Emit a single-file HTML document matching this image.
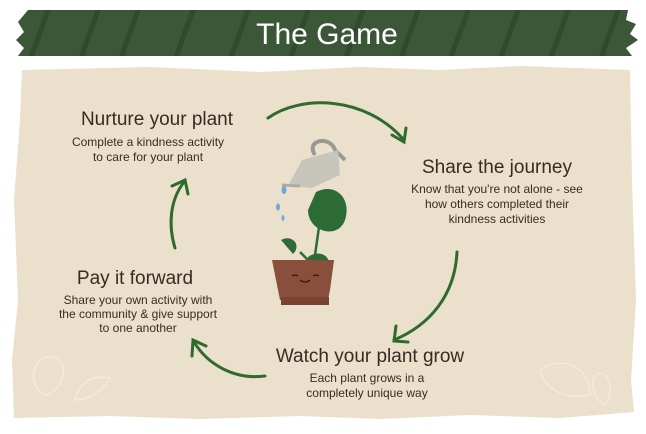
<!DOCTYPE html><html><head><style>body{margin:0;background:#fff}svg{display:block}text{font-family:"Liberation Sans",sans-serif;fill:#3a2a24}</style></head><body>
<svg width="646" height="434" viewBox="0 0 646 434">
<defs><clipPath id="b"><path d="M28,10 L628,10 L626,20 L636,24 L630,34 L638,40 L626,48 L632,56 L18,56 L24,48 L16,40 L24,32 L18,22 Z"/></clipPath></defs>
<path d="M28,10 L628,10 L626,20 L636,24 L630,34 L638,40 L626,48 L632,56 L18,56 L24,48 L16,40 L24,32 L18,22 Z" fill="#3c5638"/>
<g clip-path="url(#b)" stroke="#2f4a2c" stroke-width="5">
<line x1="30" y1="60" x2="50" y2="5"/><line x1="80" y1="60" x2="100" y2="5"/><line x1="120" y1="60" x2="140" y2="5"/><line x1="175" y1="60" x2="195" y2="5"/><line x1="230" y1="60" x2="250" y2="5"/><line x1="290" y1="60" x2="310" y2="5"/><line x1="345" y1="60" x2="365" y2="5"/><line x1="400" y1="60" x2="420" y2="5"/><line x1="450" y1="60" x2="470" y2="5"/><line x1="500" y1="60" x2="520" y2="5"/><line x1="550" y1="60" x2="570" y2="5"/><line x1="600" y1="60" x2="620" y2="5"/></g>
<text x="327" y="44" text-anchor="middle" font-size="30" style="fill:#fff">The Game</text>
<path d="M22,70 L150,67 L260,72 L360,67 L440,70 L520,66 L630,70 L632,180 L636,300 L631,380 L634,412 L560,418 L470,415 L380,419 L300,416 L200,419 L110,416 L14,418 L12,360 L18,300 L14,200 L20,120 Z" fill="#ebe0cb"/>
<g fill="none" stroke="#f3ead8" stroke-width="1.5"><path d="M45,395 C20,380 40,345 60,360 C70,375 55,395 45,395Z"/><path d="M75,400 C80,380 95,375 110,378 C100,395 85,400 75,400Z"/><path d="M540,370 C560,355 590,365 590,395 C565,400 545,390 540,370Z"/><path d="M595,375 C610,368 615,390 605,405 C595,400 590,385 595,375Z"/></g>
<g fill="none" stroke="#2f6a2e" stroke-width="3" stroke-linecap="round">
<path d="M268,118 C300,95 365,95 404,140"/><path d="M392,135 L404,142 L406,128"/>
<path d="M457,252 C455,295 430,325 394,340"/><path d="M396,326 L394,341 L408,342"/>
<path d="M265,376 C235,380 208,365 194,342"/><path d="M192,356 L193,340 L206,346"/>
<path d="M175,248 C168,225 170,200 184,182"/><path d="M172,186 L185,180 L188,194"/>
</g>
<g><path d="M315,155 C305,140 330,135 335,150 L345,160" fill="none" stroke="#9a9a94" stroke-width="4"/><path d="M302,160 L338,150 L340,175 L312,188 L288,186 Z" fill="#c8c6bc"/><path d="M282,185 L300,186" stroke="#aaa" stroke-width="3"/>
<ellipse cx="284" cy="190" rx="2.5" ry="4" fill="#6fa8d8"/><ellipse cx="278" cy="207" rx="2" ry="3.5" fill="#6fa8d8"/><ellipse cx="283" cy="218" rx="1.5" ry="3" fill="#6fa8d8"/>
<path d="M316,192 C335,182 352,198 345,220 C338,240 308,232 308,210 Z" fill="#2d6b36"/><path d="M320,220 L314,262 M300,252 L310,262" stroke="#2d6b36" stroke-width="2.5"/><path d="M281,240 C292,234 302,245 293,254 Z" fill="#2d6b36"/><path d="M308,257 C320,248 335,258 326,270 C318,272 308,267 308,257Z" fill="#2d6b36"/>
<path d="M272,260 L334,260 L330,290 L328,300 L280,300 Z" fill="#8a4e3c"/><rect x="281" y="297" width="48" height="8" fill="#7a4233"/>
<path d="M292,276 q3,-2 6,0 M313,276 q3,-2 6,0 M300,280 q5,4 10,0" stroke="#2a1a14" stroke-width="1.3" fill="none"/></g>
<g font-size="19" text-anchor="middle"><text x="157" y="125">Nurture your plant</text><text x="497" y="173">Share the journey</text><text x="135" y="284">Pay it forward</text><text x="370" y="362">Watch your plant grow</text></g>
<g font-size="12" text-anchor="middle"><text x="148" y="146">Complete a kindness activity</text><text x="148" y="161">to care for your plant</text>
<text x="497" y="193">Know that you're not alone - see</text><text x="497" y="208">how others completed their</text><text x="497" y="223">kindness activities</text>
<text x="138" y="304">Share your own activity with</text><text x="138" y="318">the community &amp; give support</text><text x="138" y="332">to one another</text>
<text x="367" y="382">Each plant grows in a</text><text x="367" y="397">completely unique way</text></g>
</svg></body></html>
